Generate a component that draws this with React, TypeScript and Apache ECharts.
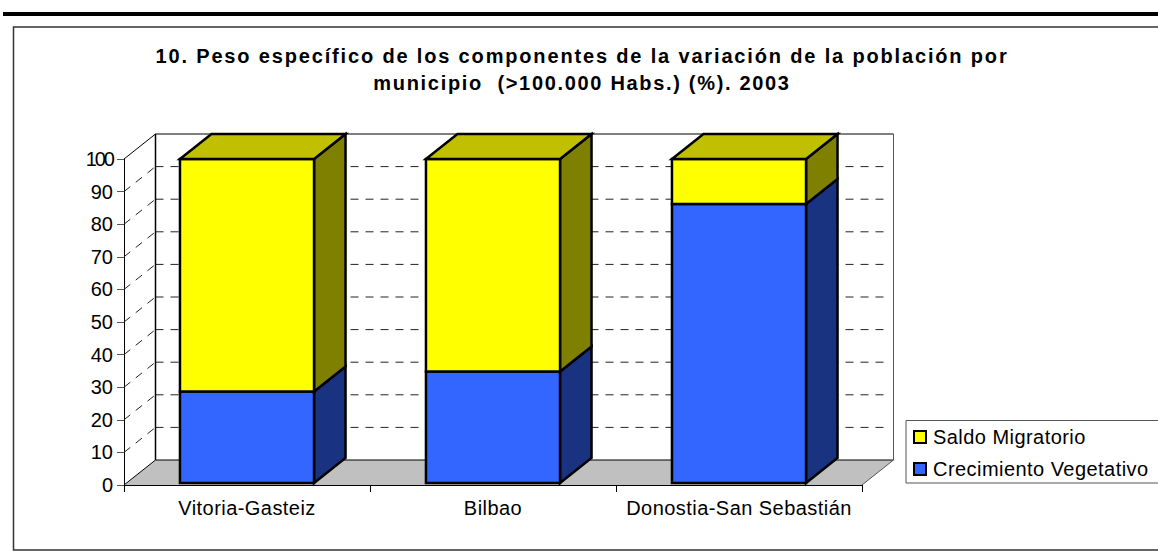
import React, { useEffect, useRef } from "react";
import * as echarts from "echarts";

const categories = ["Vitoria-Gasteiz", "Bilbao", "Donostia-San Sebastián"];
const crecimientoVegetativo = [28.7, 34.8, 86.2];
const saldoMigratorio = [71.3, 65.2, 13.8];
const wallTicks = [0, 10, 20, 30, 40, 50, 60, 70, 80, 90, 100];
const titleText =
  "10. Peso específico de los componentes de la variación de la población por\nmunicipio  (>100.000 Habs.) (%). 2003";

const DX = 31.5;
const DY = -25;
const BAR_RATIO = 0.545;
const BASE_LIFT = 2;
const FONT = "'Liberation Sans', Arial, sans-serif";

function wallItem(params: any, api: any) {
  const v = api.value(0);
  const cs = params.coordSys;
  const y = api.coord([0, v])[1];
  const x0 = cs.x;
  const x1 = cs.x + cs.width;
  const dash = { stroke: "#222", lineWidth: 1, lineDash: [8, 7] };
  const solid = { stroke: "#000", lineWidth: 1 };
  const children: any[] = [];
  if (v === 0) {
    children.push({
      type: "polygon",
      shape: { points: [[x0, y], [x0 + DX, y + DY], [x1 + DX, y + DY], [x1, y]] },
      style: { fill: "#C0C0C0", stroke: "none" },
    });
    children.push({ type: "line", shape: { x1: x0, y1: y, x2: x0 + DX, y2: y + DY }, style: solid });
    children.push({ type: "line", shape: { x1: x0 + DX, y1: y + DY, x2: x1 + DX, y2: y + DY }, style: solid });
    children.push({ type: "line", shape: { x1: x1, y1: y, x2: x1 + DX, y2: y + DY }, style: { stroke: "#555", lineWidth: 1 } });
  } else if (v === 100) {
    children.push({ type: "line", shape: { x1: x0, y1: y, x2: x0 + DX, y2: y + DY }, style: solid });
    children.push({ type: "line", shape: { x1: x0 + DX, y1: y + DY, x2: x1 + DX, y2: y + DY }, style: solid });
    const yb = api.coord([0, 0])[1] + DY;
    children.push({ type: "line", shape: { x1: x0 + DX, y1: y + DY, x2: x0 + DX, y2: yb }, style: { stroke: "#000", lineWidth: 1.5 } });
    children.push({ type: "line", shape: { x1: x1 + DX, y1: y + DY, x2: x1 + DX, y2: yb }, style: { stroke: "#555", lineWidth: 1 } });
  } else {
    children.push({ type: "line", shape: { x1: x0, y1: y, x2: x0 + DX, y2: y + DY }, style: dash });
    children.push({ type: "line", shape: { x1: x0 + DX, y1: y + DY, x2: x1 + DX - 5, y2: y + DY }, style: dash });
  }
  return { type: "group", children };
}

function barItem(front: string, side: string, top: string | null) {
  return (_params: any, api: any) => {
    const idx = api.value(0);
    const base = api.value(1);
    const val = api.value(2);
    const pb = api.coord([idx, base]);
    const pt = api.coord([idx, base + val]);
    const w = api.size([1, 0])[0] * BAR_RATIO;
    const l = pb[0] - w / 2;
    const r = pb[0] + w / 2;
    const yb = base === 0 ? pb[1] - BASE_LIFT : pb[1];
    const yt = pt[1];
    const line = { stroke: "#000", lineWidth: 2.5, lineJoin: "miter" };
    const children: any[] = [
      {
        type: "polygon",
        shape: { points: [[r, yb], [r + DX, yb + DY], [r + DX, yt + DY], [r, yt]] },
        style: { fill: side, ...line },
      },
      { type: "rect", shape: { x: l, y: yt, width: w, height: yb - yt }, style: { fill: front, ...line } },
    ];
    if (top) {
      children.push({
        type: "polygon",
        shape: { points: [[l, yt], [l + DX, yt + DY], [r + DX, yt + DY], [r, yt]] },
        style: { fill: top, ...line },
      });
    }
    return { type: "group", children };
  };
}

export default function App() {
  const ref = useRef<HTMLDivElement>(null);
  useEffect(() => {
    const chart = echarts.init(ref.current!, undefined, { renderer: "svg" });
    chart.setOption({
      animation: false,
      backgroundColor: "#fff",
      tooltip: { show: false },
      title: {
        text: titleText,
        left: 577,
        top: 37,
        textAlign: "center",
        textStyle: { fontFamily: FONT, fontSize: 20, fontWeight: "bold", color: "#000", lineHeight: 27 },
      },
      grid: { left: 124, top: 159, width: 738, height: 326 },
      xAxis: {
        type: "category",
        data: categories,
        axisLine: { lineStyle: { color: "#000", width: 1 } },
        axisTick: { show: true, length: 7, lineStyle: { color: "#000" }, alignWithLabel: false },
        axisLabel: { fontFamily: FONT, fontSize: 20, color: "#000", margin: 13, interval: 0 },
        splitLine: { show: false },
      },
      yAxis: {
        type: "value",
        min: 0,
        max: 100,
        interval: 10,
        axisLine: { show: true, lineStyle: { color: "#000", width: 1 } },
        axisTick: { show: true, length: 7, lineStyle: { color: "#555" } },
        axisLabel: { fontFamily: FONT, fontSize: 20, color: "#000", margin: 11 },
        splitLine: { show: false },
      },
      legend: {
        orient: "vertical",
        left: 908,
        top: 422,
        itemWidth: 12,
        itemHeight: 12,
        itemGap: 12,
        icon: "rect",
        data: ["Saldo Migratorio", "Crecimiento Vegetativo"],
        textStyle: { fontFamily: FONT, fontSize: 20, color: "#000", padding: [0, 0, 0, 2] },
        itemStyle: { borderColor: "#000", borderWidth: 2 },
        selectedMode: false,
      },
      graphic: [
        { type: "rect", silent: true, z: -10, shape: { x: 3, y: 12, width: 1160, height: 4 }, style: { fill: "#000" } },
        { type: "rect", silent: true, z: -10, shape: { x: 13.5, y: 27, width: 1160, height: 523 }, style: { fill: "none", stroke: "#333", lineWidth: 1.5 } },
        { type: "rect", silent: true, z: -10, shape: { x: 906, y: 420.5, width: 270, height: 62.5 }, style: { fill: "#fff", stroke: "#555", lineWidth: 1 } },
      ],
      series: [
        {
          type: "custom",
          name: "walls",
          silent: true,
          z: 1,
          renderItem: wallItem,
          encode: { y: 0 },
          data: wallTicks.map((v) => [v]),
        },
        {
          type: "custom",
          name: "Crecimiento Vegetativo",
          silent: true,
          z: 3,
          itemStyle: { color: "#3366FF" },
          renderItem: barItem("#3366FF", "#1A3380", null),
          encode: { x: 0, y: 2 },
          data: crecimientoVegetativo.map((v, i) => [i, 0, v]),
        },
        {
          type: "custom",
          name: "Saldo Migratorio",
          silent: true,
          z: 4,
          itemStyle: { color: "#FFFF00" },
          renderItem: barItem("#FFFF00", "#808000", "#C0C000"),
          encode: { x: 0, y: 2 },
          data: saldoMigratorio.map((v, i) => [i, crecimientoVegetativo[i], v]),
        },
      ],
    });
    const spacing = () => {
      ref.current?.querySelectorAll("text").forEach((t) => {
        const bold = (t.getAttribute("style") || "").includes("bold");
        const s = t.textContent || "";
        const numeric = /^\d+$/.test(s);
        const boldSpacing = s.startsWith("10.") ? "1.84" : "1.68";
        t.setAttribute("letter-spacing", bold ? boldSpacing : numeric ? (s === "100" ? "-2" : "0") : "0.45");
      });
    };
    spacing();
    chart.on("finished", spacing);
    return () => chart.dispose();
  }, []);
  return <div ref={ref} style={{ position: "absolute", left: 0, top: 0, width: 1158, height: 552 }} />;
}
